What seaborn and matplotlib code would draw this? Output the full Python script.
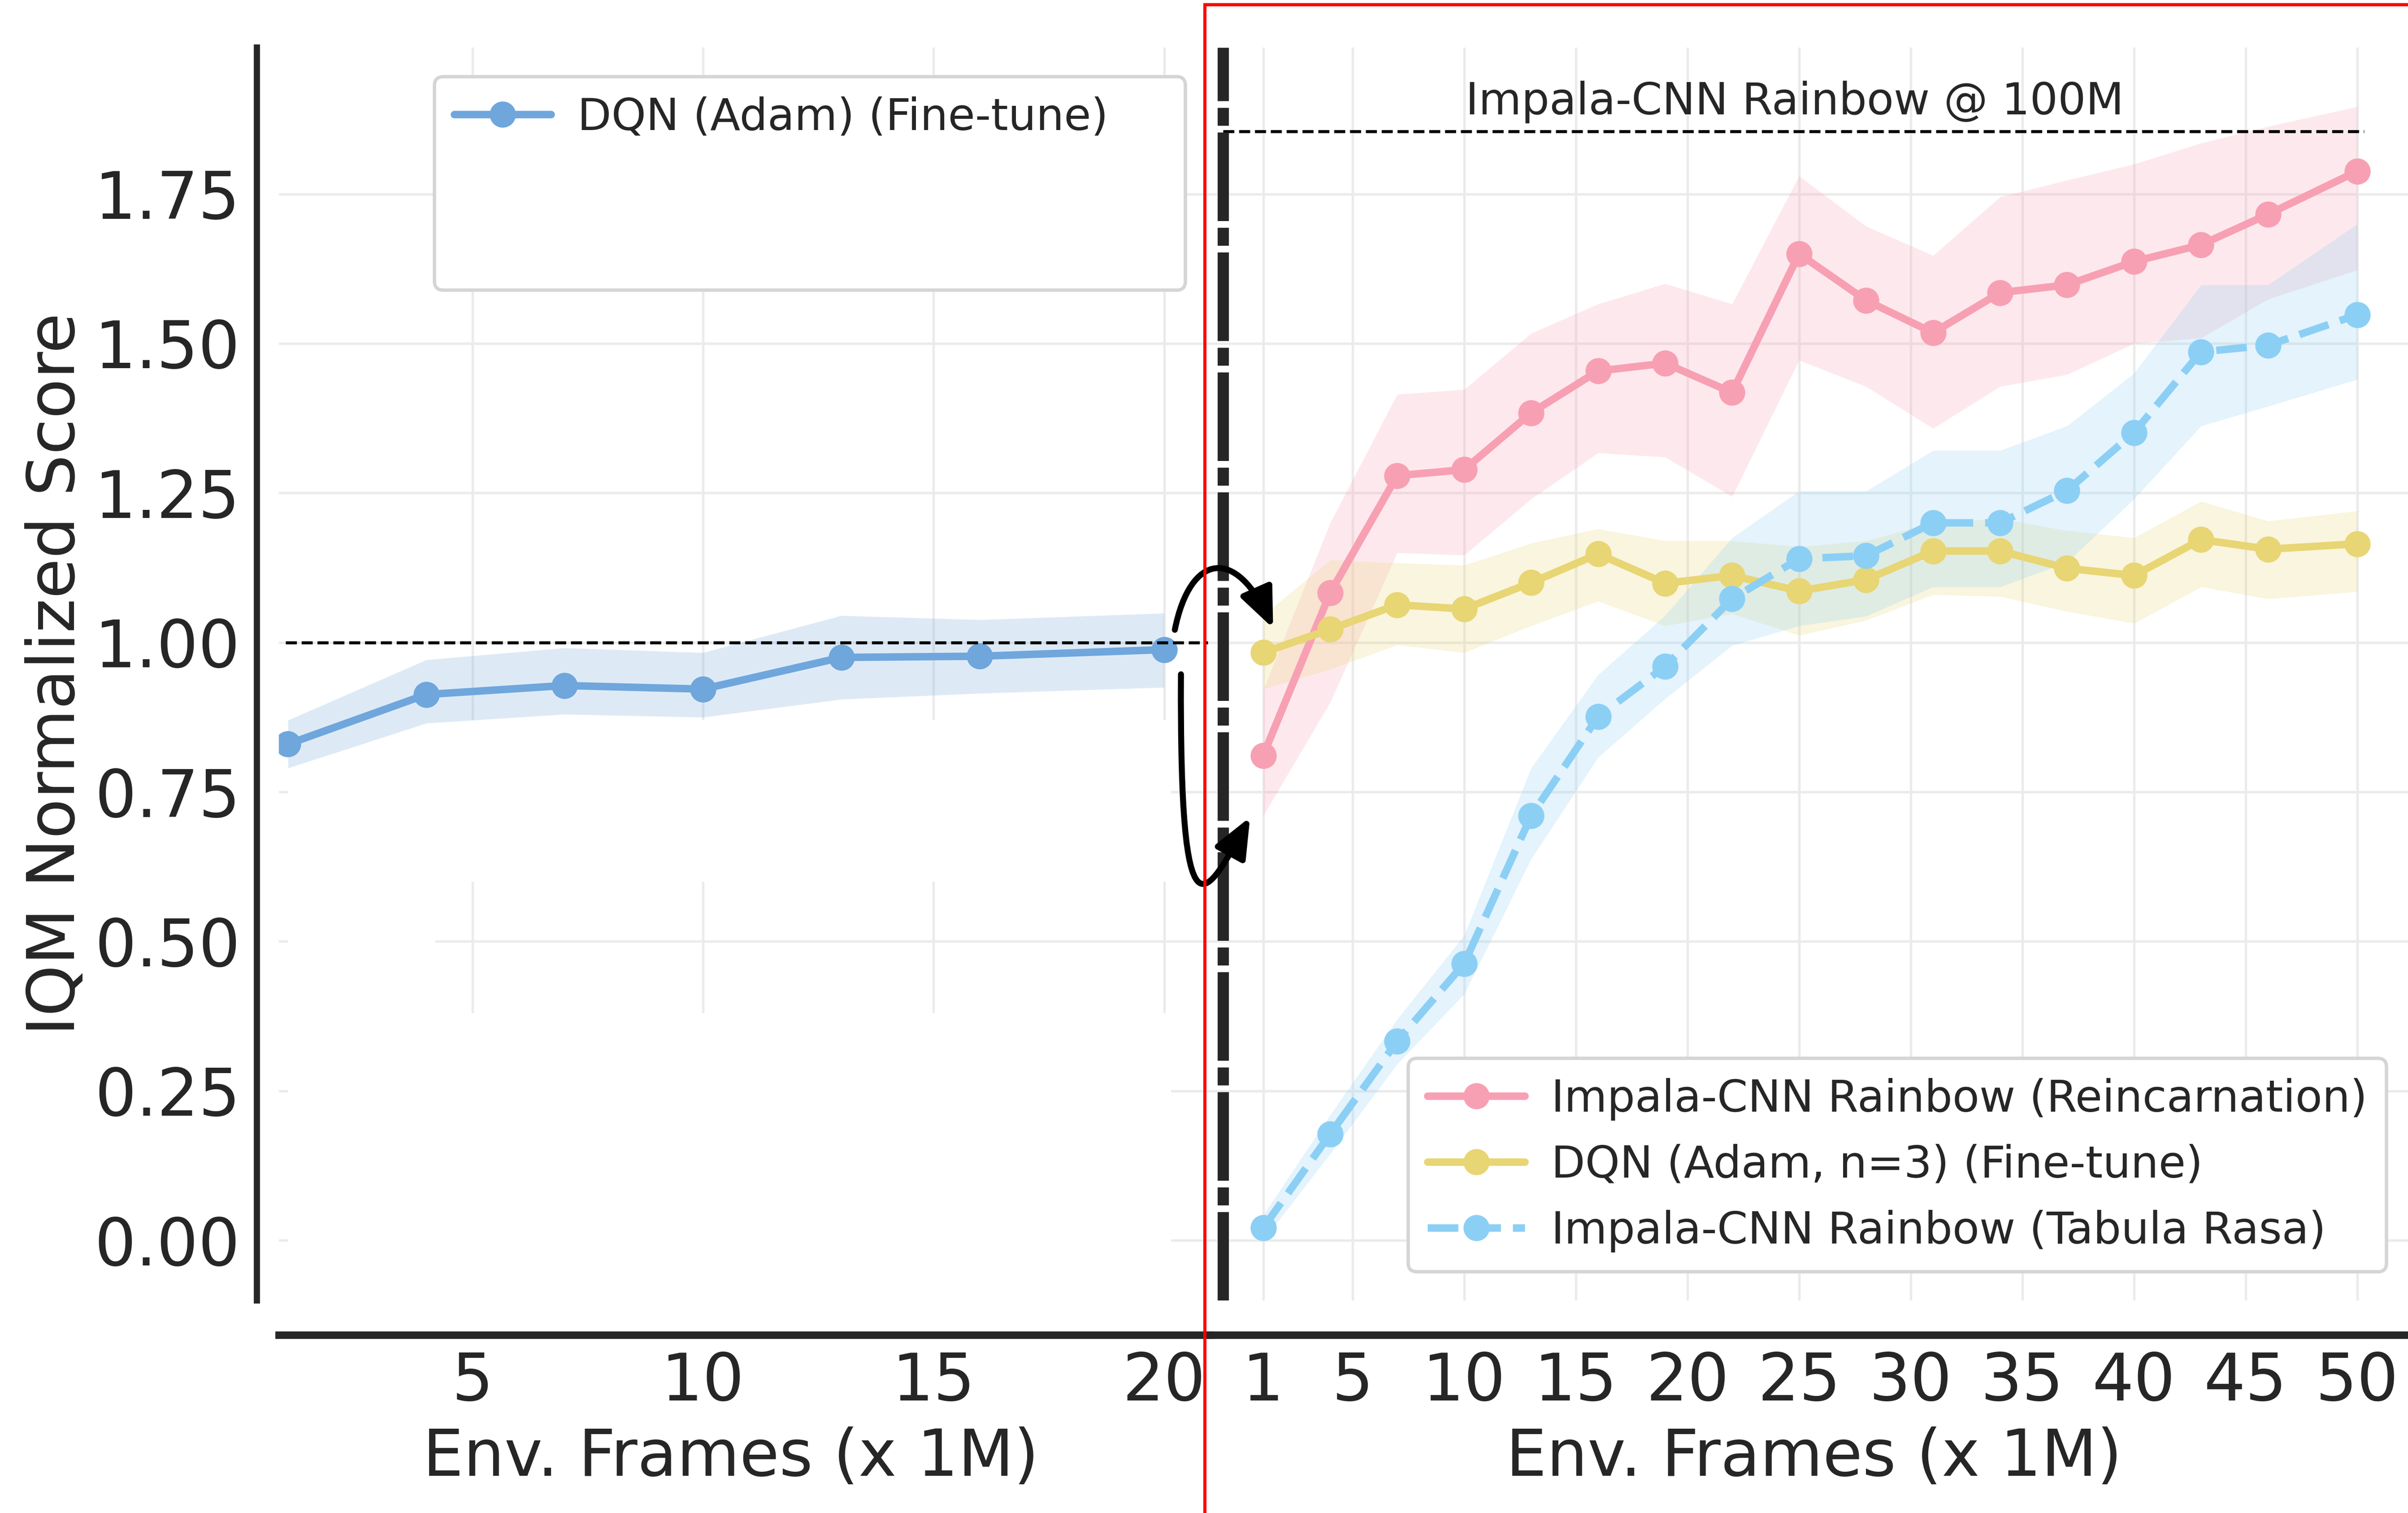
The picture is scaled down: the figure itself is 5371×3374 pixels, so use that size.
import numpy as np
import pandas as pd
import matplotlib
matplotlib.use("Agg")
import matplotlib.pyplot as plt
import seaborn as sns
from matplotlib.patches import FancyArrowPatch, Rectangle
from matplotlib.path import Path
from matplotlib.lines import Line2D

# ---------------- data ----------------
left_x = [1, 4, 7, 10, 13, 16, 20]
dqn_adam_ft = [0.83, 0.913, 0.928, 0.922, 0.975, 0.977, 0.988]
dqn_adam_ft_lo = [0.79, 0.865, 0.88, 0.875, 0.905, 0.915, 0.925]
dqn_adam_ft_hi = [0.87, 0.971, 0.991, 0.983, 1.045, 1.038, 1.049]

right_x = [1, 4, 7, 10, 13, 16, 19, 22, 25, 28, 31, 34, 37, 40, 43, 46, 50]
reinc = [0.811, 1.083, 1.279, 1.289, 1.384, 1.454, 1.467, 1.418, 1.650, 1.572,
         1.518, 1.585, 1.598, 1.637, 1.665, 1.716, 1.788]
reinc_lo = [0.71, 0.90, 1.15, 1.146, 1.24, 1.317, 1.31, 1.244, 1.472, 1.428,
            1.358, 1.428, 1.448, 1.50, 1.509, 1.574, 1.623]
reinc_hi = [0.92, 1.20, 1.415, 1.423, 1.517, 1.566, 1.60, 1.566, 1.78, 1.696,
            1.647, 1.745, 1.773, 1.80, 1.835, 1.863, 1.896]

ft3 = [0.983, 1.022, 1.063, 1.056, 1.10, 1.148, 1.099, 1.112, 1.086, 1.105,
       1.153, 1.153, 1.124, 1.112, 1.172, 1.156, 1.165]
ft3_lo = [0.922, 0.955, 0.996, 0.983, 1.028, 1.069, 1.028, 1.048, 1.012, 1.037,
          1.08, 1.077, 1.052, 1.032, 1.093, 1.073, 1.085]
ft3_hi = [1.045, 1.138, 1.133, 1.129, 1.166, 1.19, 1.17, 1.17, 1.16, 1.17,
          1.20, 1.207, 1.187, 1.175, 1.236, 1.203, 1.22]

tabula = [0.021, 0.178, 0.333, 0.463, 0.71, 0.876, 0.96, 1.073, 1.14, 1.145,
          1.20, 1.20, 1.254, 1.351, 1.486, 1.497, 1.548]
tabula_lo = [0.0, 0.145, 0.295, 0.412, 0.638, 0.808, 0.906, 0.995, 1.028, 1.044,
             1.093, 1.093, 1.134, 1.24, 1.362, 1.395, 1.44]
tabula_hi = [0.042, 0.21, 0.37, 0.51, 0.79, 0.946, 1.045, 1.175, 1.253, 1.253,
             1.321, 1.321, 1.362, 1.45, 1.598, 1.598, 1.70]

left_xticks = [5, 10, 15, 20]
right_xticks = [1, 5, 10, 15, 20, 25, 30, 35, 40, 45, 50]
yticks = [0.0, 0.25, 0.5, 0.75, 1.0, 1.25, 1.5, 1.75]

lbl_left = "DQN (Adam) (Fine-tune)"
lbl_reinc = "Impala-CNN Rainbow (Reincarnation)"
lbl_ft3 = "DQN (Adam, n=3) (Fine-tune)"
lbl_tabula = "Impala-CNN Rainbow (Tabula Rasa)"
xlabel = "Env. Frames (x 1M)"
ylabel = "IQM Normalized Score"
ref_text = "Impala-CNN Rainbow @ 100M"
ref_level = 1.855
left_level = 1.0

# ---------------- style ----------------
C_LEFT = "#6FA6DC"
C_PINK = "#F8A0B3"
C_YEL = "#E8D574"
C_LBLUE = "#8CCFF5"
DARK = "#262626"
BAND_ALPHA = 0.23

sns.set_theme(style="whitegrid")
plt.rcParams["font.family"] = ["DejaVu Sans"]

FW, FH = 5371, 3374
fig = plt.figure(figsize=(FW / 300, FH / 300), dpi=300)
fig.patch.set_facecolor("white")

RW, RH = 1568.0, 985.0
def fx(x):
    return x / RW
def fy(y):
    return 1 - y / RH

top_px, bot_px = 30.9, 846.5
axL = fig.add_axes([fx(181.5), fy(bot_px), fx(788.1) - fx(181.5), fy(top_px) - fy(bot_px)])
axR = fig.add_axes([fx(788.1), fy(bot_px), fx(1568) - fx(788.1), fy(top_px) - fy(bot_px)])

LW, MS = 4.0, 14.0
line_kw = dict(marker="o", markersize=MS, markeredgewidth=0, linewidth=LW, errorbar=None)
DASH = (4.1, 1.6)

# ---- left panel ----
axL.fill_between(left_x, dqn_adam_ft_lo, dqn_adam_ft_hi, color=C_LEFT, alpha=BAND_ALPHA, lw=0, zorder=1)
sns.lineplot(x=left_x, y=dqn_adam_ft, ax=axL, color=C_LEFT, **line_kw)
axL.hlines(left_level, 0.95, 20.95, colors="black", linestyles="--", lw=1.6, zorder=3)
# erased (white) regions of the original figure
for (x0, y0, w, h) in [(1.0, 0.60, 19.15, 0.27), (1.0, -0.1, 19.15, 0.48), (1.0, 0.38, 3.2, 0.22)]:
    axL.add_patch(Rectangle((x0, y0), w, h, facecolor="white", edgecolor="none", zorder=0.9))

# ---- right panel ----
axR.fill_between(right_x, reinc_lo, reinc_hi, color=C_PINK, alpha=BAND_ALPHA, lw=0, zorder=1)
axR.fill_between(right_x, ft3_lo, ft3_hi, color=C_YEL, alpha=BAND_ALPHA, lw=0, zorder=1)
axR.fill_between(right_x, tabula_lo, tabula_hi, color=C_LBLUE, alpha=BAND_ALPHA, lw=0, zorder=1)
sns.lineplot(x=right_x, y=reinc, ax=axR, color=C_PINK, **line_kw)
sns.lineplot(x=right_x, y=ft3, ax=axR, color=C_YEL, **line_kw)
sns.lineplot(x=right_x, y=tabula, ax=axR, color=C_LBLUE, linestyle=(0, DASH), **line_kw)

axR.axvline(-0.79, color=DARK, lw=6, linestyle=(0, (7.9, 0.6, 1.6, 0.6)), zorder=4)
axR.hlines(ref_level, -0.79, 50.3, colors="black", linestyles="--", lw=1.6, zorder=3)
axR.text(24.8, 1.883, ref_text, ha="center", va="baseline", fontsize=23.6, color=DARK)

# ---- axes cosmetics ----
YLIM = (-0.1, 1.995)
axL.set_xlim(0.8, 21.0)
axR.set_xlim((788.1 - 808) / 14.54, (1568 - 808) / 14.54)
for ax in (axL, axR):
    ax.set_ylim(*YLIM)
    ax.set_yticks(yticks)
    ax.set_facecolor("white")
    ax.grid(True, color="#ebebeb", lw=1.3)
    ax.set_axisbelow(True)
    for s in ("top", "right"):
        ax.spines[s].set_visible(False)
    ax.spines["bottom"].set_color(DARK)
    ax.spines["bottom"].set_linewidth(4)
    ax.spines["bottom"].set_position(("outward", 18.5))
    ax.tick_params(axis="both", length=0, labelsize=35, colors=DARK)
    ax.tick_params(axis="x", pad=8.5)
    ax.tick_params(axis="y", pad=9.0)
    ax.set_xlabel(xlabel, fontsize=34.5, color=DARK)
    ax.set_ylabel("")

axL.set_xticks(left_xticks)
axR.set_xticks(right_xticks)
axL.set_yticklabels([f"{v:.2f}" for v in yticks])
axR.tick_params(axis="y", labelleft=False)
axR.spines["left"].set_visible(False)
axL.spines["left"].set_color(DARK)
axL.spines["left"].set_linewidth(3.3)
axL.spines["left"].set_position(("outward", 11.6))
axL.set_ylabel(ylabel, fontsize=35, color=DARK)
axL.yaxis.set_label_coords(-0.205, 0.5)
axL.xaxis.set_label_coords(0.4855, -0.1008)
axR.xaxis.set_label_coords(0.504, -0.1008)

# ---- legends ----
def handle(color, ls="-"):
    return Line2D([], [], color=color, marker="o", markersize=MS, markeredgewidth=0, lw=LW,
                  ls=(0, DASH) if ls == "--" else ls)

h_blank = Line2D([], [], color="none", lw=0)
leg_kw = dict(fontsize=23.6, frameon=True, fancybox=True, framealpha=1.0, edgecolor="#d5d5d5",
              borderpad=0.44, labelspacing=0.53, handlelength=2.2, handletextpad=0.6,
              borderaxespad=0.0, labelcolor=DARK)
legL = axL.legend([handle(C_LEFT), h_blank, h_blank], [lbl_left, " ", " "], loc="upper left",
                  bbox_to_anchor=(0.1673, 0.0, 0.8062, 0.9766), mode="expand", **leg_kw)
legR = axR.legend([handle(C_PINK), handle(C_YEL), handle(C_LBLUE, "--")],
                  [lbl_reinc, lbl_ft3, lbl_tabula], loc="lower left",
                  bbox_to_anchor=(0.1653, 0.0227), **leg_kw)
for leg in (legL, legR):
    leg.get_frame().set_linewidth(1.8)

# ---- curved arrows (figure coordinates) ----
def arrow(pts):
    verts = [(fx(x), fy(y)) for x, y in pts]
    p = Path(verts, [Path.MOVETO, Path.CURVE4, Path.CURVE4, Path.CURVE4])
    a = FancyArrowPatch(path=p, arrowstyle="-|>,head_length=0.9,head_width=0.38",
                        mutation_scale=20, lw=3.2, color="black",
                        transform=fig.transFigure, zorder=10)
    fig.add_artist(a)

arrow([(765, 410), (775, 360), (805, 355), (829, 409)])
arrow([(769, 439), (768, 620), (785, 585), (814, 532)])

# ---- red frame ----
fig.add_artist(Rectangle((fx(784.5), -0.2), 0.7, fy(3.0) + 0.2, transform=fig.transFigure,
                         fill=False, edgecolor="red", lw=1.7, zorder=20))

fig.savefig("out.png", dpi=300, facecolor="white")
